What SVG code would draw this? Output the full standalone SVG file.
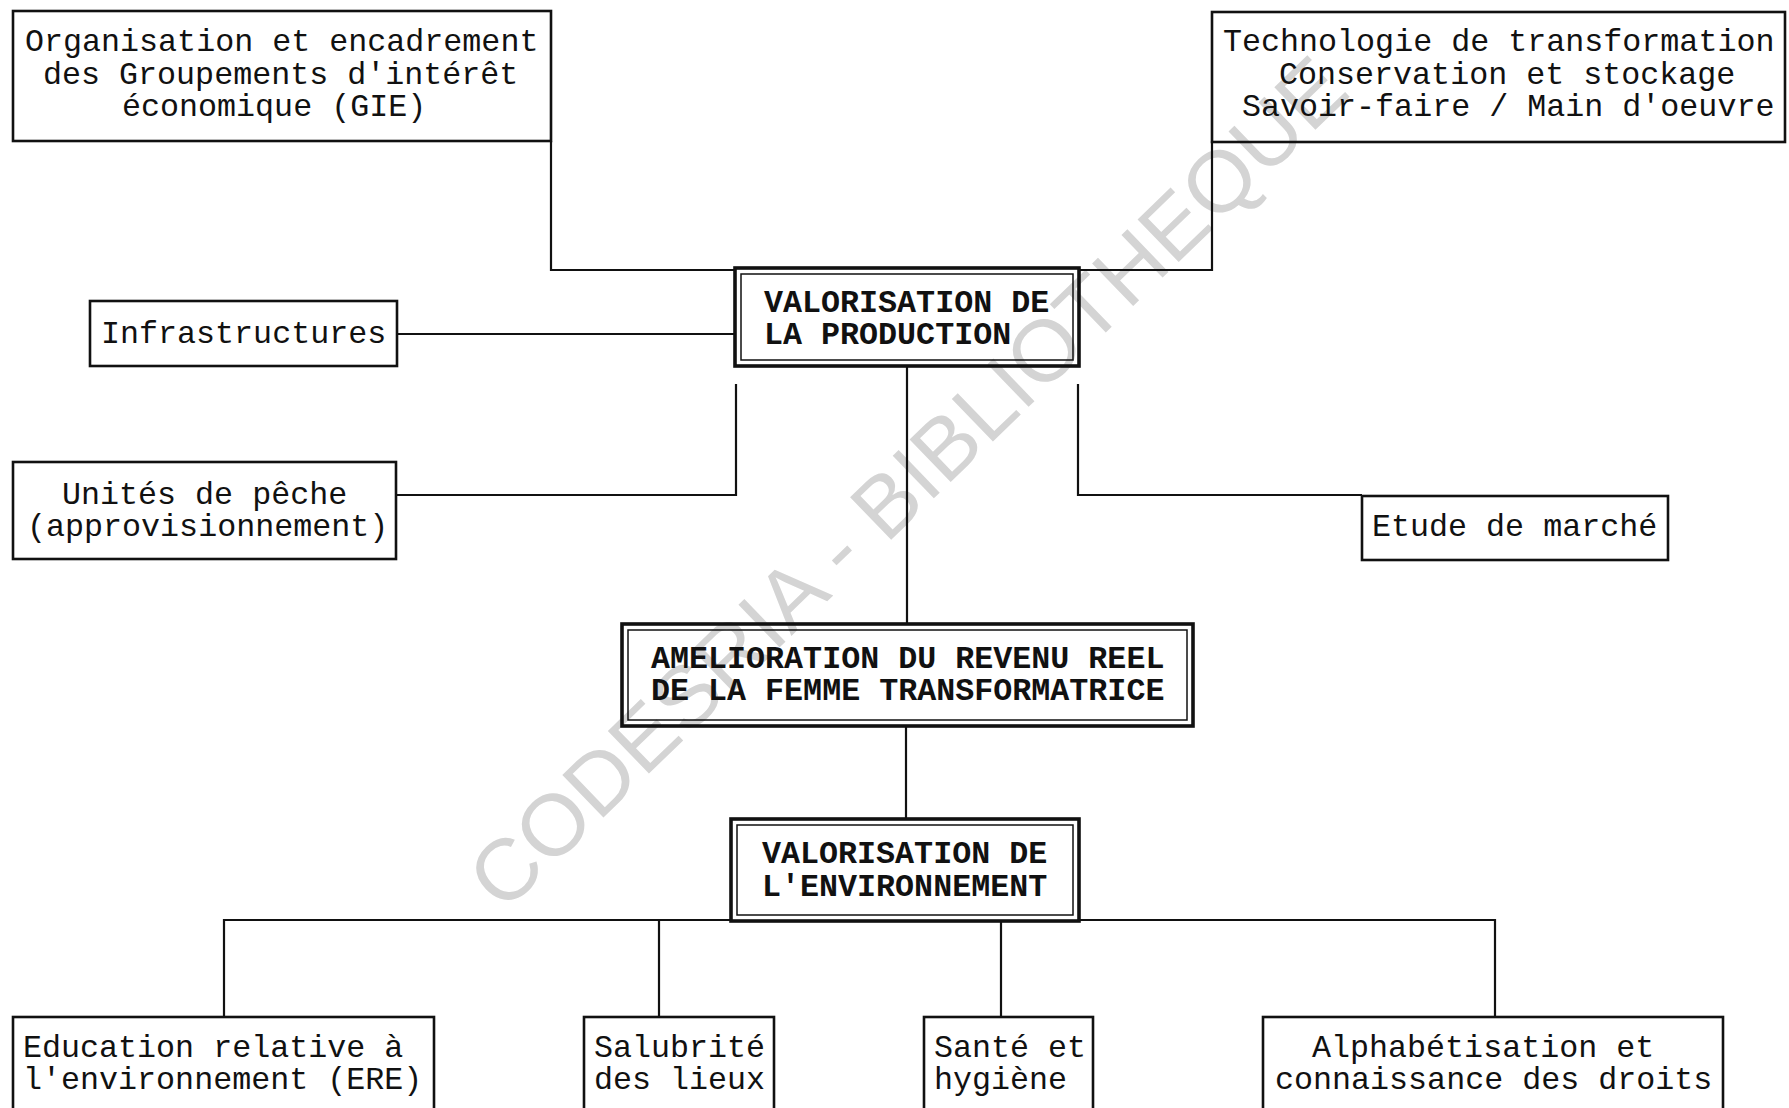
<svg xmlns="http://www.w3.org/2000/svg" width="1789" height="1108" viewBox="0 0 1789 1108">
<style>
  text { font-family: "Liberation Mono", "Courier New", monospace; font-size: 31.7px; fill: #111; }
  .caps { font-weight: bold; }
  .box { fill: none; stroke: #111; stroke-width: 2.6; }
  .outer { fill: none; stroke: #111; stroke-width: 3.6; }
  .inner { fill: none; stroke: #111; stroke-width: 1.5; }
  .conn path { fill: none; stroke: #111; stroke-width: 2.2; }
  .wm { font-family: "Liberation Sans", Arial, sans-serif; font-size: 86px; fill: #d4d4d4; }
</style>
<rect width="1789" height="1108" fill="#ffffff"/>
<text class="wm" x="928" y="504" text-anchor="middle" textLength="1180" lengthAdjust="spacingAndGlyphs" transform="rotate(-44 928 504)">CODESRIA - BIBLIOTHEQUE</text>

<g id="connectors" class="conn">
  <path d="M551 141 V270 H735"/>
  <path d="M1212 141 V270 H1079"/>
  <path d="M397 334 H735"/>
  <path d="M396 495 H736 V384"/>
  <path d="M1362 495 H1078 V384"/>
  <path d="M907 367 V624"/>
  <path d="M906 726 V819"/>
  <path d="M224 1017 V920 H731"/>
  <path d="M1079 920 H1495 V1017"/>
  <path d="M659 920 V1017"/>
  <path d="M1001 920 V1017"/>
</g>

<g id="n-gie">
  <rect class="box" x="13" y="11" width="538" height="130"/>
  <text x="25" y="51">Organisation et encadrement</text>
  <text x="43" y="84">des Groupements d'intérêt</text>
  <text x="122" y="116">économique (GIE)</text>
</g>
<g id="n-techno">
  <rect class="box" x="1212" y="12" width="573" height="130"/>
  <text x="1223" y="51">Technologie de transformation</text>
  <text x="1279" y="84">Conservation et stockage</text>
  <text x="1242" y="116">Savoir-faire / Main d'oeuvre</text>
</g>
<g id="n-valprod">
  <rect class="outer" x="735" y="268" width="344" height="98"/>
  <rect class="inner" x="741" y="274" width="332" height="86"/>
  <text class="caps" x="764" y="312">VALORISATION DE</text>
  <text class="caps" x="764" y="344">LA PRODUCTION</text>
</g>
<g id="n-infra">
  <rect class="box" x="90" y="301" width="307" height="65"/>
  <text x="101" y="343">Infrastructures</text>
</g>
<g id="n-peche">
  <rect class="box" x="13" y="462" width="383" height="97"/>
  <text x="62" y="504">Unités de pêche</text>
  <text x="27" y="536">(approvisionnement)</text>
</g>
<g id="n-marche">
  <rect class="box" x="1362" y="496" width="306" height="64"/>
  <text x="1372" y="536">Etude de marché</text>
</g>
<g id="n-revenu">
  <rect class="outer" x="622" y="624" width="571" height="102"/>
  <rect class="inner" x="628" y="630" width="559" height="90"/>
  <text class="caps" x="651" y="668">AMELIORATION DU REVENU REEL</text>
  <text class="caps" x="651" y="700">DE LA FEMME TRANSFORMATRICE</text>
</g>
<g id="n-valenv">
  <rect class="outer" x="731" y="819" width="348" height="102"/>
  <rect class="inner" x="737" y="825" width="336" height="90"/>
  <text class="caps" x="762" y="863">VALORISATION DE</text>
  <text class="caps" x="762" y="896">L'ENVIRONNEMENT</text>
</g>
<g id="n-ere">
  <rect class="box" x="13" y="1017" width="421" height="130"/>
  <text x="23" y="1057">Education relative à</text>
  <text x="23" y="1089">l'environnement (ERE)</text>
</g>
<g id="n-salubrite">
  <rect class="box" x="584" y="1017" width="190" height="130"/>
  <text x="594" y="1057">Salubrité</text>
  <text x="594" y="1089">des lieux</text>
</g>
<g id="n-sante">
  <rect class="box" x="924" y="1017" width="169" height="130"/>
  <text x="934" y="1057">Santé et</text>
  <text x="934" y="1089">hygiène</text>
</g>
<g id="n-alpha">
  <rect class="box" x="1263" y="1017" width="460" height="130"/>
  <text x="1312" y="1057">Alphabétisation et</text>
  <text x="1275" y="1089">connaissance des droits</text>
</g>
</svg>
